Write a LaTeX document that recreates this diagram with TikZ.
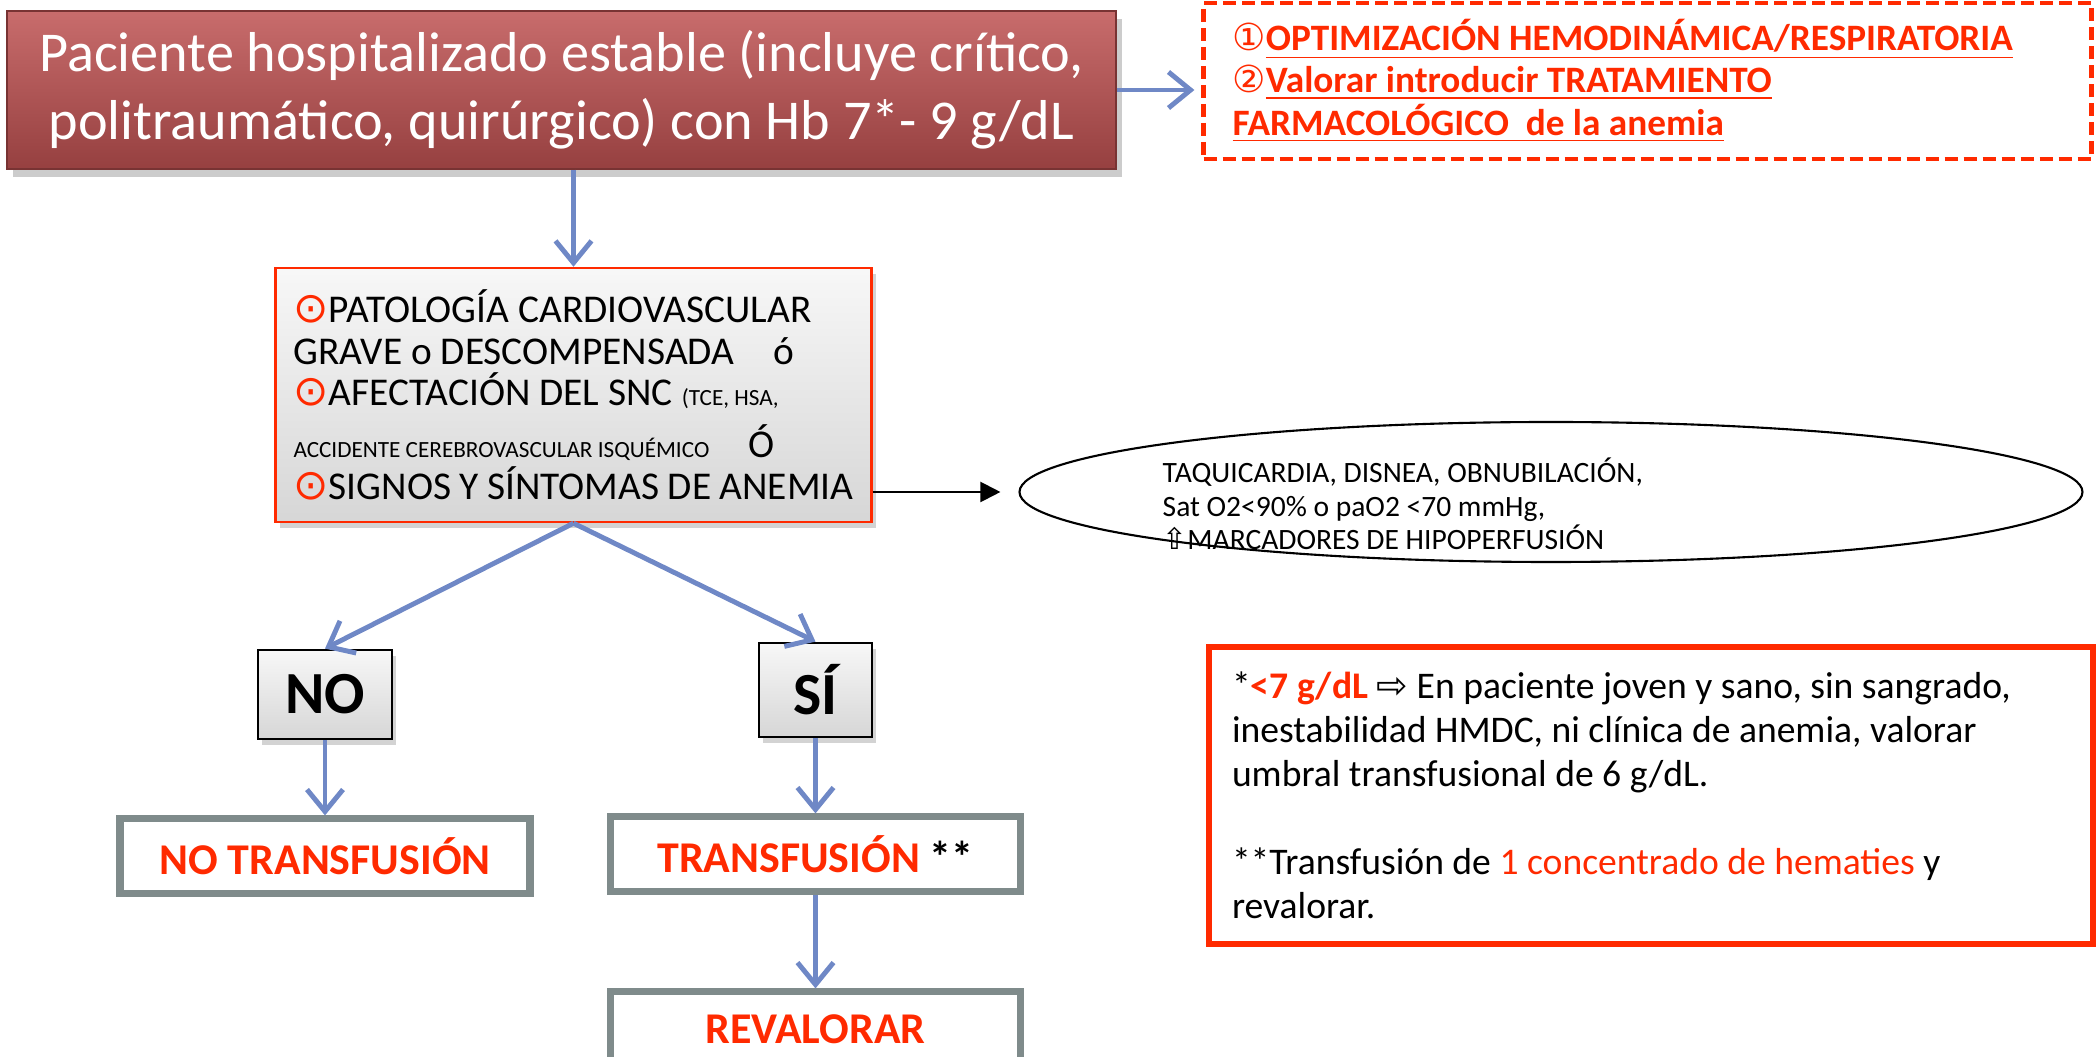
\documentclass[tikz,border=0pt]{standalone}
\usepackage{fontspec}
\setmainfont{Carlito}
\newfontfamily\symfont{DejaVu Sans}
\usetikzlibrary{positioning,shapes.geometric,shadows,arrows.meta}
\definecolor{alertred}{RGB}{255,42,0}
\definecolor{flowblue}{RGB}{111,136,198}
\definecolor{boxgray}{RGB}{127,139,139}
\definecolor{winetop}{RGB}{200,108,108}
\definecolor{winebottom}{RGB}{150,64,64}
\newcommand{\bullred}{{\color{alertred}\symfont\fontsize{12}{11.8}\selectfont ⊙}}
\tikzset{
    main-box/.style = {draw=winebottom!80!black, top color=winetop, bottom color=winebottom, text=white, align=center, inner sep=0pt, font=\fontsize{16}{19.3}\selectfont, drop shadow={opacity=0.4, shadow xshift=0.6mm, shadow yshift=-0.8mm}},
    dash-box/.style = {draw=alertred, line width=1.2pt, dash pattern=on 1.3mm off 0.6mm, fill=white, text=alertred, align=flush left, text width=8.3cm, inner xsep=0.29cm, font=\bfseries\fontsize{10.6}{12}\selectfont},
    crit-box/.style = {draw=alertred, line width=0.7pt, top color=gray!6, bottom color=gray!32, align=flush left, text width=5.6cm, inner xsep=0.18cm, font=\fontsize{11.2}{11.8}\selectfont, drop shadow={opacity=0.35, shadow xshift=0.4mm, shadow yshift=-0.6mm}},
    oval-box/.style = {draw=black, line width=0.6pt, ellipse, minimum width=10.63cm, minimum height=1.4cm},
    choice-box/.style = {draw=black, line width=0.8pt, top color=gray!6, bottom color=gray!32, font=\bfseries\fontsize{17}{20}\selectfont, drop shadow={opacity=0.35, shadow xshift=0.4mm, shadow yshift=-0.6mm}},
    result-box/.style = {draw=boxgray, line width=2pt, fill=white, text=alertred, minimum width=4.1cm, minimum height=0.75cm, font=\bfseries\fontsize{12.5}{15}\selectfont},
    note-box/.style = {draw=alertred, line width=1.5pt, fill=white, align=flush left, text width=8.38cm, inner xsep=0.23cm, minimum height=2.97cm, font=\fontsize{10.7}{12.5}\selectfont},
    flow-arrow/.style = {draw=flowblue, line width=1.4pt, -{Straight Barb[length=2.2mm,width=3.6mm]}},
    sign-arrow/.style = {draw=black, line width=0.6pt, -{Triangle[length=2mm,width=2mm]}},
}
\begin{document}
\begin{tikzpicture}
\useasboundingbox (0,0) rectangle (21,-10.57);
\node[main-box, minimum width=11.09cm, minimum height=1.58cm] (patient) at (5.615,-0.90) {Paciente hospitalizado estable (incluye crítico,\\politraumático, quirúrgico) con Hb 7*- 9 g/dL};
\node[dash-box, minimum height=1.56cm] (optim) at (16.475,-0.81) {{\mdseries\symfont ①}\underline{OPTIMIZACIÓN HEMODINÁMICA/RESPIRATORIA}\\{\mdseries\symfont ②}\underline{Valorar introducir TRATAMIENTO}\\\underline{FARMACOLÓGICO\ \ de la anemia}};
\node[crit-box, minimum height=2.54cm] (criteria) at (5.735,-3.95) {\bullred PATOLOGÍA CARDIOVASCULAR\\GRAVE o DESCOMPENSADA\quad ó\\\bullred AFECTACIÓN DEL SNC {\fontsize{6.6}{8}\selectfont(TCE, HSA,}\\[3pt]{\fontsize{6.6}{8}\selectfont ACCIDENTE CEREBROVASCULAR ISQUÉMICO}\quad Ó\\\bullred SIGNOS Y SÍNTOMAS DE ANEMIA};
\node[oval-box] (signs) at (15.51,-4.92) {};
\node[anchor=west, align=flush left, inner sep=0pt, font=\fontsize{8.4}{9.6}\selectfont] (signs-text) at (11.62,-5.04) {TAQUICARDIA, DISNEA, OBNUBILACIÓN,\\Sat O2<90\% o paO2 <70 mmHg,\\{\symfont ⇧}MARCADORES DE HIPOPERFUSIÓN};
\node[choice-box, minimum width=1.34cm, minimum height=0.89cm] (no) at (3.25,-6.945) {NO};
\node[choice-box, minimum width=1.13cm, minimum height=0.94cm] (yes) at (8.155,-6.90) {SÍ};
\node[result-box, below=0.75cm of no] (no-transf) {NO TRANSFUSIÓN};
\node[result-box, below=0.75cm of yes] (transf) {TRANSFUSIÓN {\color{black}**}};
\node[result-box, below=0.93cm of transf] (reassess) {REVALORAR};
\node[note-box] (note) at (16.51,-7.955) {*{\color{alertred}\bfseries <7 g/dL} {\symfont ⇨} En paciente joven y sano, sin sangrado,\\inestabilidad HMDC, ni clínica de anemia, valorar\\umbral transfusional de 6 g/dL.\\[12.5pt]**Transfusión de {\color{alertred}1 concentrado de hematies} y\\revalorar.};
\draw[flow-arrow, shorten >=0.7mm] (patient.east) -- (patient.east -| optim.west);
\draw[flow-arrow] (criteria.north |- patient.south) -- (criteria.north);
\draw[flow-arrow] (criteria.south) -- (no.north);
\draw[flow-arrow] (criteria.south) -- (yes.north);
\draw[flow-arrow] (no) -- (no-transf);
\draw[flow-arrow] (yes) -- (transf);
\draw[flow-arrow] (transf) -- (reassess);
\draw[sign-arrow, shorten >=1.8mm] (criteria.east |- signs.west) -- (signs.west);
\end{tikzpicture}
\end{document}
